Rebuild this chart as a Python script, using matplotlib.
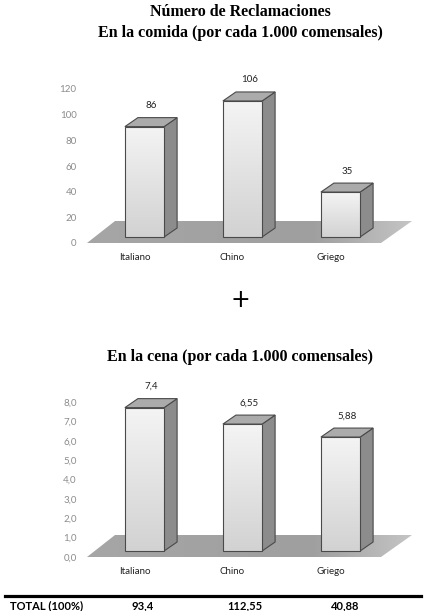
"""Two pseudo-3D bar charts (lunch / dinner complaints per 1.000 diners)
stacked on one page, with a totals row underneath."""
import matplotlib
matplotlib.use("Agg")
import matplotlib.pyplot as plt
import numpy as np
from matplotlib.colors import LinearSegmentedColormap
from matplotlib.lines import Line2D
from matplotlib.patches import Polygon
from matplotlib.transforms import ScaledTranslation, offset_copy

categories = ["Italiano", "Chino", "Griego"]
lunch_values = [86, 106, 35]
lunch_labels = ["86", "106", "35"]
lunch_ticks = [0, 20, 40, 60, 80, 100, 120]
dinner_values = [7.4, 6.55, 5.88]
dinner_labels = ["7,4", "6,55", "5,88"]
dinner_ticks = [0, 1, 2, 3, 4, 5, 6, 7, 8]
dinner_tick_labels = ["0,0", "1,0", "2,0", "3,0", "4,0", "5,0", "6,0", "7,0", "8,0"]
total_header = "TOTAL (100%)"
totals = ["93,4", "112,55", "40,88"]

W, H, DPI = 427, 611, 100
SANS = ["Lato", "DejaVu Sans"]
SERIF = ["Liberation Serif", "DejaVu Serif"]
EDGE = "#4a4a4a"
AX_W = 327          # axes width in px
X0_PX = 59.5        # px from axes left to first bar centre
STEP_PX = 98        # px between bar centres
BAR_W = 0.4
LIFT_PX = 6         # bars sit a little behind the floor's front edge
DEPTH = (13, 9)     # bar depth offset, px
FLOOR = [(2, 0), (296, 0), (327, 22), (30, 22)]  # px, relative to axes

front_cmap = LinearSegmentedColormap.from_list("front", ["#f4f4f4", "#d2d2d2"])
floor_cmap = LinearSegmentedColormap.from_list(
    "floor", [(0, "#a6a6a6"), (0.7, "#9f9f9f"), (1, "#c4c4c4")])

fig = plt.figure(figsize=(W / DPI, H / DPI), dpi=DPI)
fig.patch.set_facecolor("white")


def draw_chart(top_px, height_px, values, labels, ticks, tick_labels, ymax):
    ax = fig.add_axes([85 / W, (H - top_px - height_px) / H, AX_W / W, height_px / H])
    ax.set_facecolor("none")
    xlim = (-X0_PX / STEP_PX, (AX_W - X0_PX) / STEP_PX)
    for s in ax.spines.values():
        s.set_visible(False)

    # floor
    fl = [(x / AX_W, y / height_px) for x, y in FLOOR]
    floor = Polygon(fl, closed=True, transform=ax.transAxes, facecolor="none",
                    edgecolor="none", zorder=1)
    ax.add_patch(floor)
    im = ax.imshow(np.linspace(0, 1, 128).reshape(1, -1), cmap=floor_cmap, aspect="auto",
                   extent=(0, 1, 0, 22 / height_px), transform=ax.transAxes, zorder=0.9)
    im.set_clip_path(floor)

    # bars
    lifted = offset_copy(ax.transData, fig=fig, x=0, y=LIFT_PX, units="dots")
    x = np.arange(len(values))
    ddx = DEPTH[0] / STEP_PX
    ddy = DEPTH[1] * ymax / height_px
    bars = ax.bar(x, values, width=BAR_W, facecolor="none", edgecolor=EDGE,
                  linewidth=0.8, transform=lifted, zorder=3, clip_on=False)
    for xi, v, bar in zip(x, values, bars):
        l, r = xi - BAR_W / 2, xi + BAR_W / 2
        side = Polygon([(r, 0), (r, v), (r + ddx, v + ddy), (r + ddx, ddy)],
                       facecolor="#8c8c8c", edgecolor=EDGE, linewidth=0.8,
                       transform=lifted, zorder=2, clip_on=False)
        top = Polygon([(l, v), (r, v), (r + ddx, v + ddy), (l + ddx, v + ddy)],
                      facecolor="#ababab", edgecolor=EDGE, linewidth=0.8,
                      transform=lifted, zorder=2, clip_on=False)
        ax.add_patch(side)
        ax.add_patch(top)
        g = ax.imshow(np.linspace(0, 1, 128).reshape(-1, 1), cmap=front_cmap, aspect="auto",
                      extent=(l, r, 0, v), origin="upper", transform=lifted, zorder=2.5)
        g.set_clip_box(None)
        g.set_clip_path(bar)

    for xi, v, lab in zip(x, values, labels):
        ax.annotate(lab, (xi, v), xytext=(7, LIFT_PX + 21), textcoords="offset pixels",
                    ha="center", va="center", fontsize=7, family=SANS, color="#222222",
                    annotation_clip=False)

    ax.set_yticks(ticks)
    ax.set_yticklabels(tick_labels, family=SANS, fontsize=7, color="#8c8c8c")
    ax.set_xticks(x)
    ax.set_xticklabels(categories, family=SANS, fontsize=7, color="#222222")
    ax.tick_params(length=0, pad=6)
    ax.tick_params(axis="x", pad=7)
    for t in ax.get_xticklabels():
        t.set_transform(t.get_transform() + ScaledTranslation(-10 / DPI, 0, fig.dpi_scale_trans))
    ax.set_xlim(*xlim)
    ax.set_ylim(0, ymax)
    return ax


draw_chart(89, 154, lunch_values, lunch_labels, lunch_ticks,
           [str(t) for t in lunch_ticks], 120)
draw_chart(402, 155, dinner_values, dinner_labels, dinner_ticks, dinner_tick_labels, 8)

title_kw = dict(ha="center", va="center", family=SERIF, fontweight="bold", fontsize=11.5)
fig.text(240 / W, 1 - 12 / H, "Número de Reclamaciones", **title_kw)
fig.text(240 / W, 1 - 33 / H, "En la comida (por cada 1.000 comensales)", **title_kw)
fig.text(240 / W, 1 - 357 / H, "En la cena (por cada 1.000 comensales)", **title_kw)
fig.text(240 / W, 1 - 300 / H, "+", ha="center", va="center", fontsize=17,
         family="DejaVu Sans", color="black")

fig.add_artist(Line2D([5 / W, 421 / W], [1 - 596 / H] * 2, color="black", linewidth=2.3))
row_kw = dict(ha="center", va="center", family=SANS, fontweight="bold", fontsize=8)
fig.text(47 / W, 1 - 606 / H, total_header, **row_kw)
for xc, t in zip([143, 245, 345], totals):
    fig.text(xc / W, 1 - 606 / H, t, **row_kw)

fig.savefig("out.png", dpi=DPI, facecolor="white")
